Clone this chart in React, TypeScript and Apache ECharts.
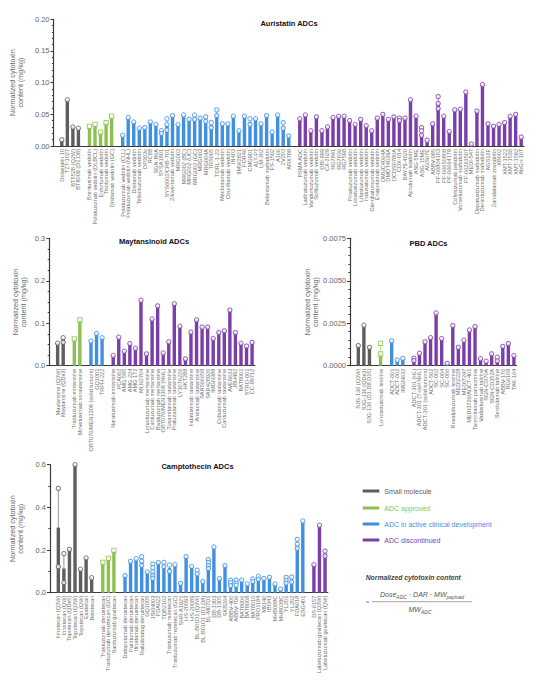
import React, { useEffect, useRef } from 'react';
import * as echarts from 'echarts';

type Kind = 'small' | 'approved' | 'active' | 'disc';
const COLOR: Record<Kind, string> = { small: '#5e5e5e', approved: '#8cc152', active: '#3f8fe2', disc: '#7a3ea8' };
const SYMBOL: Record<Kind, string> = { small: 'circle', approved: 'rect', active: 'circle', disc: 'circle' };
const FONT = '"Liberation Sans", Arial, sans-serif';

// ---------- Auristatin ----------
const auriSmallLabels = ['Dolastatin 10', 'TZT-1027', 'BT5528 (Q2W)', 'BT8009 (D1,D8)'];
const auriSmallValues = [0.008, 0.073, 0.030, 0.028];
const auriSmallPoints = [[0.010], null, null, null];

const auriApprovedLabels = ['Brentuximab vedotin', 'Polatuzumab vedotin (DLBCL)', 'Enfortumab vedotin', 'Tisotumab vedotin', 'Disitamab vedotin (GC)'];
const auriApprovedValues = [0.031, 0.034, 0.022, 0.037, 0.047];
const auriApprovedPoints = [null, null, null, null, null];

const auriActiveLabels = ['Polatuzumab vedotin (CLL)', 'Polatuzumab vedotin (NHL)', 'Disitamab vedotin', 'Telisotuzumab vedotin', 'DP303c', 'RC88', 'SGN-B6A', 'SYSA1801', 'SYS6002/CRB-701', 'Zilovertamab vedotin', 'MRG003', 'MRG002 (BC)', 'MRG002 (UC)', 'MRG002 (GC)', 'MRG003', 'MRG004A', 'TRS005', 'TORL-1-23', 'Mecbotamab vedotin', 'Ozuriftamab vedotin', 'IN403', '9MW2821', 'FOR46', 'CMG901', 'ALT-P7', 'LM-302', 'Belantamab mafodotin', 'FS-1502', 'A166', 'ZV203', 'ARX788'];
const auriActiveValues = [0.017, 0.045, 0.038, 0.028, 0.029, 0.038, 0.034, 0.022, 0.034, 0.048, 0.034, 0.049, 0.042, 0.045, 0.044, 0.042, 0.033, 0.050, 0.035, 0.035, 0.047, 0.024, 0.047, 0.038, 0.043, 0.035, 0.048, 0.022, 0.049, 0.031, 0.016];
const auriActivePoints = [null, null, null, null, null, null, null, [0.024, 0.020], [0.043, 0.034, 0.025], null, null, null, null, [0.049, 0.042], null, [0.046, 0.039], [0.037, 0.029], [0.057, 0.048], null, null, null, null, null, [0.043, 0.034], null, null, null, null, null, [0.037, 0.028], null];

const auriDiscLabels = ['PSMA ADC', 'Ladiratuzumab vedotin', 'Vandortuzumab vedotin', 'Sofituzumab vedotin', 'OBI-999', 'CX-2029', 'RG7841', 'RG7636', 'RG7598', 'Pinatuzumab vedotin', 'Losatuxizumab vedotin', 'Lifastuzumab vedotin', 'Indusatumab vedotin', 'Glembatumumab vedotin', 'Enapotamab vedotin', 'DMUC4064A', 'DMOT4039A', 'DCDS0780A', 'CDX-014', 'BAY79-4620', 'Aprutumab ixadotin', 'ASG-5ME', 'ASG-15ME', 'AGS67E', 'ABBV-085', 'PF-06804103', 'PF-06650808', 'PF-06664178', 'Cofetuzumab pelidotin', 'Vorsetuzumab mafodotin', 'PF-06263507', 'MEDI-547', 'Depatuxizumab mafodotin', 'Denintuzumab mafodotin', 'AGS16F', 'Zanidatamab zovodotin', 'XB002', 'XMT-1522', 'XMT-1536', 'XMT-1592', 'AbGn-107'];
const auriDiscValues = [0.043, 0.049, 0.024, 0.046, 0.024, 0.030, 0.045, 0.047, 0.047, 0.040, 0.034, 0.042, 0.032, 0.024, 0.044, 0.050, 0.042, 0.046, 0.042, 0.044, 0.073, 0.047, 0.020, 0.009, 0.035, 0.067, 0.047, 0.023, 0.057, 0.058, 0.085, 0.003, 0.055, 0.097, 0.035, 0.031, 0.034, 0.037, 0.047, 0.050, 0.014];
const auriDiscPoints: (number[] | null)[] = auriDiscLabels.map(() => null);
auriDiscPoints[18] = [0.044, 0.040];
auriDiscPoints[22] = [0.029, 0.024, 0.017];
auriDiscPoints[25] = [0.078, 0.067, 0.059];

// ---------- Maytansinoid ----------
const maySmallLabels = ['Maytansine (Q3W)', 'Maytansine (QDx3)'];
const maySmallValues = [0.053, 0.062];
const maySmallPoints = [null, [0.066, 0.055]];

const mayApprovedLabels = ['Trastuzumab emtansine', 'Mirvetuximab soravtansine'];
const mayApprovedValues = [0.063, 0.108];
const mayApprovedPoints = [null, null];

const mayActiveLabels = ['OBT076/MEN1309 (solid tumors)', 'GQ1001', 'TRPH-222'];
const mayActiveValues = [0.058, 0.076, 0.066];
const mayActivePoints = [null, null, null];

const mayDiscLabels = ['Naratuximab emtansine', 'PCA062', 'AMG 595', 'AMG 224', 'AMG 172', 'MLN2704', 'Lorvotuzumab mertansine', 'Cantuzumab mertansine', 'Bivatuzumab mertansine', 'OBT076/MEN1309 (NHL)', 'Tusamitamab ravtansine', 'Praluzatamab ravtansine', 'LY3076226', 'HKT288', 'Indatuximab ravtansine', 'Anetumab ravtansine', 'SAR566658', 'SAR428926', 'IMGN388', 'Coltuximab ravtansine', 'Cantuzumab ravtansine', 'AVE9633', 'JBH492', 'BAT8001', 'STRO-001', 'CC-99712'];
const mayDiscValues = [0.024, 0.067, 0.034, 0.052, 0.041, 0.154, 0.028, 0.110, 0.141, 0.030, 0.056, 0.146, 0.093, 0.016, 0.079, 0.108, 0.091, 0.091, 0.064, 0.078, 0.082, 0.131, 0.078, 0.053, 0.046, 0.055];
const mayDiscPoints: (number[] | null)[] = mayDiscLabels.map(() => null);

// ---------- PBD ----------
const pbdSmallLabels = ['SJG-136 (Q3W)', 'SJG-136 (QDx3)', 'SJG-136 (D1,D8,D15)'];
const pbdSmallValues = [0.00118, 0.00238, 0.00108];
const pbdSmallPoints = [null, null, null];

const pbdApprovedLabels = ['Loncastuximab tesirine'];
const pbdApprovedValues = [0.0007];
const pbdApprovedPoints = [[0.00132, 0.00069]];

const pbdActiveLabels = ['ADCT-601', 'ADCT-602', 'IMGN632'];
const pbdActiveValues = [0.00146, 0.00033, 0.00043];
const pbdActivePoints = [null, null, null];

const pbdDiscLabels = ['ADCT-301 (HL)', 'ADCT-301 (T-cell NHL)', 'ADCT-301 (solid tumors)', 'ADCT-502', 'SC-002', 'SC-004', 'SC-006', 'Rovalpituzumab tesirine', 'MEDI2228', 'MEDI7247', 'MEDI3726/ADCT-401', 'Tamrintamab pamozirine', 'Vadastuximab talirine', 'SGN-CD70A', 'SGN-CD352A', 'Serclutamab talirine', 'ABBV-176', 'RG6109', 'TAK-164'];
const pbdDiscValues = [0.00045, 0.00073, 0.0014, 0.00165, 0.0031, 0.0016, 0.00014, 0.00236, 0.00108, 0.0015, 0.0021, 0.0023, 0.00041, 0.00026, 0.0007, 0.0004, 0.00114, 0.0013, 0.0006];
const pbdDiscPoints: (number[] | null)[] = pbdDiscLabels.map(() => null);
pbdDiscPoints[0] = [0.00045, 0.0003];
pbdDiscPoints[15] = [0.0005, 0.00028];

// ---------- Camptothecin ----------
const camSmallLabels = ['Irinotecan (Q3W)', 'Irinotecan (QW)', 'Topotecan (QDx5)', 'Topotecan (Q3W)', 'Topotecan (QW)', 'Exatecan', 'Belotecan'];
const camSmallValues = [0.305, 0.114, 0.203, 0.6, 0.11, 0.163, 0.07];
const camSmallPoints = [[0.489, 0.122], [0.183, 0.047], null, null, null, null, null];

const camApprovedLabels = ['Trastuzumab deruxtecan', 'Trastuzumab deruxtecan (GC)', 'Sacituzumab govitecan'];
const camApprovedValues = [0.142, 0.161, 0.198];
const camApprovedPoints = [null, null, null];

const camActiveLabels = ['Datopotamab deruxtecan', 'Patritumab deruxtecan', 'Ifinatamab deruxtecan', 'Raludotatug deruxtecan', 'GQ1005', 'JSKN003', 'FDA022', 'TQB2102', 'Trastuzumab rezetecan', 'Trastuzumab rezetecan (GC)', 'SHR-A1921', 'HS-20093', 'HS-20089', 'BL-B01D1 (Q3W)', 'BL-B01D1 (D1,D8)', 'BL-M07D1', 'DB-1303', 'DB-1305', 'SKB264', 'ABBV-400', 'ABBV-706', 'BAT8006', 'BAT8008', 'BAT8010', 'PRO1184', 'M9140', 'IBI343', 'MHB088C', 'MHB039C', 'YL201', 'YL202', 'FDA018', 'ESG401'];
const camActiveValues = [0.080, 0.147, 0.159, 0.148, 0.097, 0.099, 0.141, 0.132, 0.115, 0.131, 0.044, 0.169, 0.123, 0.097, 0.052, 0.134, 0.214, 0.066, 0.127, 0.046, 0.046, 0.059, 0.041, 0.058, 0.070, 0.066, 0.072, 0.041, 0.017, 0.058, 0.061, 0.228, 0.336];
const camActivePoints: (number[] | null)[] = camActiveLabels.map(() => null);
camActivePoints[3] = [0.169, 0.148, 0.128];
camActivePoints[5] = [0.134, 0.117, 0.098, 0.080, 0.067];
camActivePoints[7] = [0.142, 0.122];
camActivePoints[8] = [0.130, 0.100];
camActivePoints[13] = [0.105, 0.089];
camActivePoints[15] = [0.155, 0.141, 0.127, 0.113];
camActivePoints[19] = [0.059, 0.047, 0.033];
camActivePoints[20] = [0.059, 0.045, 0.035];
camActivePoints[23] = [0.064, 0.052];
camActivePoints[24] = [0.077, 0.063];
camActivePoints[29] = [0.072, 0.058, 0.045];
camActivePoints[30] = [0.073, 0.050];
camActivePoints[31] = [0.250, 0.227, 0.208];

const camDiscLabels = ['DS-6157', 'Labetuzumab govitecan (Q3W)', 'Labetuzumab govitecan (QW)'];
const camDiscValues = [0.131, 0.316, 0.183];
const camDiscPoints = [null, null, [0.195, 0.172]];

const legendLabels = ['Small molecule', 'ADC approved', 'ADC in active clinical development', 'ADC discontinued'];
const legendKinds: Kind[] = ['small', 'approved', 'active', 'disc'];

interface Group { kind: Kind; labels: string[]; values: number[]; points: (number[] | null)[] }

function buildPanel(groups: Group[]) {
  const cats: string[] = [''];
  const bars: any[] = ['-'];
  const pts: any[] = [];
  const whiskers: { x: number; lo: number; hi: number; color: string }[] = [];
  groups.forEach((g, gi) => {
    if (gi > 0) { cats.push(''); bars.push('-'); }
    g.labels.forEach((lab, i) => {
      const idx = cats.length;
      cats.push(lab);
      const c = COLOR[g.kind];
      bars.push({ value: g.values[i], itemStyle: { color: c } });
      const p = (g.points && g.points[i]) || [g.values[i]];
      p.forEach((v) => pts.push({ value: [idx, v], symbol: SYMBOL[g.kind], itemStyle: { color: '#fff', borderColor: c, borderWidth: 1 } }));
      if (p.length > 1) whiskers.push({ x: idx, lo: Math.min(...p), hi: Math.max(...p), color: c });
    });
  });
  return { cats, bars, pts, whiskers };
}

const SLOT = 5.556;

const panels = [
  {
    groups: [
      { kind: 'small' as Kind, labels: auriSmallLabels, values: auriSmallValues, points: auriSmallPoints },
      { kind: 'approved' as Kind, labels: auriApprovedLabels, values: auriApprovedValues, points: auriApprovedPoints },
      { kind: 'active' as Kind, labels: auriActiveLabels, values: auriActiveValues, points: auriActivePoints },
      { kind: 'disc' as Kind, labels: auriDiscLabels, values: auriDiscValues, points: auriDiscPoints },
    ],
    left: 51.7, top: 19.3, height: 126.7, max: 0.2, interval: 0.05, minor: 5, digits: 2, nameGap: 24,
    title: 'Auristatin ADCs', tx: 289, ty: 23,
  },
  {
    groups: [
      { kind: 'small' as Kind, labels: maySmallLabels, values: maySmallValues, points: maySmallPoints },
      { kind: 'approved' as Kind, labels: mayApprovedLabels, values: mayApprovedValues, points: mayApprovedPoints },
      { kind: 'active' as Kind, labels: mayActiveLabels, values: mayActiveValues, points: mayActivePoints },
      { kind: 'disc' as Kind, labels: mayDiscLabels, values: mayDiscValues, points: mayDiscPoints },
    ],
    left: 49.3, top: 238.3, height: 127.4, max: 0.3, interval: 0.1, minor: 4, digits: 1, nameGap: 21.5,
    title: 'Maytansinoid ADCs', tx: 154, ty: 241.7,
  },
  {
    groups: [
      { kind: 'small' as Kind, labels: pbdSmallLabels, values: pbdSmallValues, points: pbdSmallPoints },
      { kind: 'approved' as Kind, labels: pbdApprovedLabels, values: pbdApprovedValues, points: pbdApprovedPoints },
      { kind: 'active' as Kind, labels: pbdActiveLabels, values: pbdActiveValues, points: pbdActivePoints },
      { kind: 'disc' as Kind, labels: pbdDiscLabels, values: pbdDiscValues, points: pbdDiscPoints },
    ],
    left: 350, top: 238.3, height: 127.4, max: 0.0075, interval: 0.0025, minor: 5, digits: 4, nameGap: 31,
    title: 'PBD ADCs', tx: 428.5, ty: 243,
  },
  {
    groups: [
      { kind: 'small' as Kind, labels: camSmallLabels, values: camSmallValues, points: camSmallPoints },
      { kind: 'approved' as Kind, labels: camApprovedLabels, values: camApprovedValues, points: camApprovedPoints },
      { kind: 'active' as Kind, labels: camActiveLabels, values: camActiveValues, points: camActivePoints },
      { kind: 'disc' as Kind, labels: camDiscLabels, values: camDiscValues, points: camDiscPoints },
    ],
    left: 50, top: 464.7, height: 128, max: 0.6, interval: 0.2, minor: 2, digits: 1, nameGap: 22.5,
    title: 'Camptothecin ADCs', tx: 197.5, ty: 466.7,
  },
];

function buildOption() {
  const grids: any[] = [];
  const xAxes: any[] = [];
  const yAxes: any[] = [];
  const series: any[] = [];
  const graphic: any[] = [];

  panels.forEach((p, i) => {
    const built = buildPanel(p.groups as Group[]);
    grids.push({ left: p.left, top: p.top, width: built.cats.length * SLOT, height: p.height });
    xAxes.push({
      type: 'category', gridIndex: i, data: built.cats, boundaryGap: true,
      axisLine: { lineStyle: { color: '#3a3a3a', width: 1.2 } },
      axisTick: { show: false },
      axisLabel: { rotate: 90, interval: 0, fontSize: 5.6, color: '#707070', margin: 3, fontFamily: FONT },
    });
    yAxes.push({
      type: 'value', gridIndex: i, min: 0, max: p.max, interval: p.interval,
      axisLine: { show: true, lineStyle: { color: '#3a3a3a', width: 1.2 } },
      axisTick: { show: true, length: 3, lineStyle: { color: '#3a3a3a' } },
      minorTick: { show: true, splitNumber: p.minor, length: 1.6, lineStyle: { color: '#3a3a3a' } },
      splitLine: { show: false },
      axisLabel: { fontSize: 7.5, color: '#666', margin: 4, fontFamily: FONT, formatter: (v: number) => v.toFixed(p.digits) },
      name: 'Normalized cytotoxin\ncontent (mg/kg)', nameLocation: 'middle', nameGap: p.nameGap,
      nameTextStyle: { fontSize: 7.2, color: '#666', lineHeight: 8, fontFamily: FONT },
    });
    series.push({ type: 'bar', xAxisIndex: i, yAxisIndex: i, data: built.bars, barWidth: 3.4, z: 2 });
    built.whiskers.forEach((w) => {
      series.push({
        type: 'line', xAxisIndex: i, yAxisIndex: i, data: [[w.x, w.lo], [w.x, w.hi]],
        symbol: 'none', silent: true, z: 3, lineStyle: { color: w.color, width: 0.8, opacity: 0.8 },
      });
    });
    series.push({ type: 'scatter', xAxisIndex: i, yAxisIndex: i, data: built.pts, symbolSize: 4.3, z: 4 });
    graphic.push({
      type: 'text', x: p.tx, y: p.ty,
      style: { text: p.title, font: `bold 7.5px ${FONT}`, fill: '#111', align: 'center', verticalAlign: 'middle', textAlign: 'center', textVerticalAlign: 'middle' },
    });
  });

  // legend
  const legendY = [491, 508, 524, 540];
  legendLabels.forEach((lab, k) => {
    const c = COLOR[legendKinds[k]];
    graphic.push({ type: 'rect', shape: { x: 362.7, y: legendY[k] - 1.5, width: 16.6, height: 3 }, style: { fill: c } });
    graphic.push({
      type: 'text', x: 384.3, y: legendY[k],
      style: { text: lab, font: `7px ${FONT}`, fill: c, verticalAlign: 'middle', textVerticalAlign: 'middle' },
    });
  });

  // formula
  graphic.push({
    type: 'text', x: 365.7, y: 577.7,
    style: { text: 'Normalized cytotoxin content', font: `italic bold 6.8px ${FONT}`, fill: '#444', verticalAlign: 'middle', textVerticalAlign: 'middle' },
  });
  graphic.push({
    type: 'text', x: 366, y: 601.5,
    style: { text: '=', font: `5.5px ${FONT}`, fill: '#777', verticalAlign: 'middle', textVerticalAlign: 'middle' },
  });
  const rich = {
    m: { font: `italic 7px ${FONT}`, fill: '#555', lineHeight: 8 },
    s: { font: `italic 5px ${FONT}`, fill: '#555', lineHeight: 5, padding: [5, 0, 0, 0] },
  };
  graphic.push({
    type: 'text', x: 422, y: 594,
    style: { text: '{m|Dose}{s|ADC}{m| · DAR · MW}{s|payload}', rich, align: 'center', verticalAlign: 'middle', textAlign: 'center', textVerticalAlign: 'middle' },
  });
  graphic.push({ type: 'line', shape: { x1: 372, y1: 601.7, x2: 472, y2: 601.7 }, style: { stroke: '#666', lineWidth: 0.6 } });
  graphic.push({
    type: 'text', x: 420, y: 609,
    style: { text: '{m|MW}{s|ADC}', rich, align: 'center', verticalAlign: 'middle', textAlign: 'center', textVerticalAlign: 'middle' },
  });

  return {
    animation: false,
    textStyle: { fontFamily: FONT },
    grid: grids,
    xAxis: xAxes,
    yAxis: yAxes,
    series,
    graphic,
  };
}

export default function App() {
  const ref = useRef<HTMLDivElement>(null);
  useEffect(() => {
    if (!ref.current) return;
    const chart = echarts.init(ref.current, undefined, { renderer: 'svg' });
    chart.setOption(buildOption() as any);
    return () => chart.dispose();
  }, []);
  return <div ref={ref} style={{ position: 'absolute', left: 0, top: 0, width: 540, height: 680, background: '#fff' }} />;
}
